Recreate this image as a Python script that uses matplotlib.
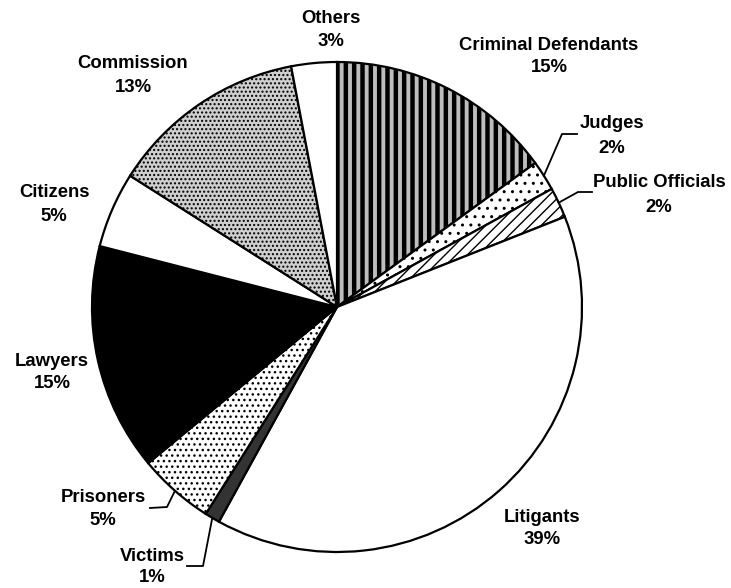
import numpy as np
import matplotlib
matplotlib.use('Agg')
import matplotlib.pyplot as plt

labels = ['Criminal Defendants', 'Judges', 'Public Officials', 'Litigants', 'Victims',
          'Prisoners', 'Lawyers', 'Citizens', 'Commission', 'Others']
shares = [15, 2, 2, 39, 1, 5, 15, 5, 13, 3]

fills = ['#bdbdbd', 'white', 'white', 'white', '#333333',
         'white', 'black', 'white', '#cfcfcf', 'white']
hatches = ['||', '..', '///', None, None, '...', None, None, '....', None]

plt.rcParams['font.family'] = 'Liberation Sans'
plt.rcParams['font.weight'] = 'bold'
plt.rcParams['hatch.linewidth'] = 1.0

H = 588
CX, CY, R = 337, 307, 245   # pie centre / radius in pixels (top-down y)

fig = plt.figure(figsize=(7.31, 5.88), dpi=100)
ax = fig.add_axes([0, 0, 1, 1])

wedges, _ = ax.pie(shares, center=(CX, H - CY), radius=R, startangle=90,
                   counterclock=False, colors=fills,
                   wedgeprops=dict(edgecolor='black', linewidth=1.6))
for w, h in zip(wedges, hatches):
    if h:
        w.set_hatch(h)
if hasattr(wedges[0], 'set_hatch_linewidth'):
    wedges[0].set_hatch_linewidth(3.2)

# pie() resets the limits, so set them afterwards
ax.set_xlim(0, 731)
ax.set_ylim(0, H)
ax.set_aspect('equal')
ax.axis('off')

# label anchor: centre x, cap-centre y of name, cap-centre y of percentage
spots = {
    'Criminal Defendants': (549, 43, 65),
    'Judges': (612, 121, 146),
    'Public Officials': (659, 180, 205),
    'Litigants': (542, 515, 537),
    'Victims': (152, 554, 575),
    'Prisoners': (103, 495, 518),
    'Lawyers': (52, 359, 381),
    'Citizens': (54, 190, 214),
    'Commission': (133, 61, 85),
    'Others': (331, 16, 39),
}
for name, pct in zip(labels, shares):
    x, y1, y2 = spots[name]
    ax.text(x, H - y1 - 7, name, ha='center', va='baseline', fontsize=13.3)
    ax.text(x, H - y2 - 7, f'{pct}%', ha='center', va='baseline', fontsize=13.3)

# leader lines: start on the rim at the wedge's mid angle
bends = {
    'Judges': [(562, 134), (577, 134)],
    'Public Officials': [(578, 192), (592, 192)],
    'Prisoners': [(167, 507), (150, 508)],
    'Victims': [(203, 566), (187, 566)],
}
for w, name in zip(wedges, labels):
    if name not in bends:
        continue
    mid = np.deg2rad((w.theta1 + w.theta2) / 2)
    xs = [CX + R * np.cos(mid)] + [p[0] for p in bends[name]]
    ys = [H - CY + R * np.sin(mid)] + [H - p[1] for p in bends[name]]
    ax.plot(xs, ys, color='black', lw=1.3)

fig.savefig('out.png', dpi=100)
